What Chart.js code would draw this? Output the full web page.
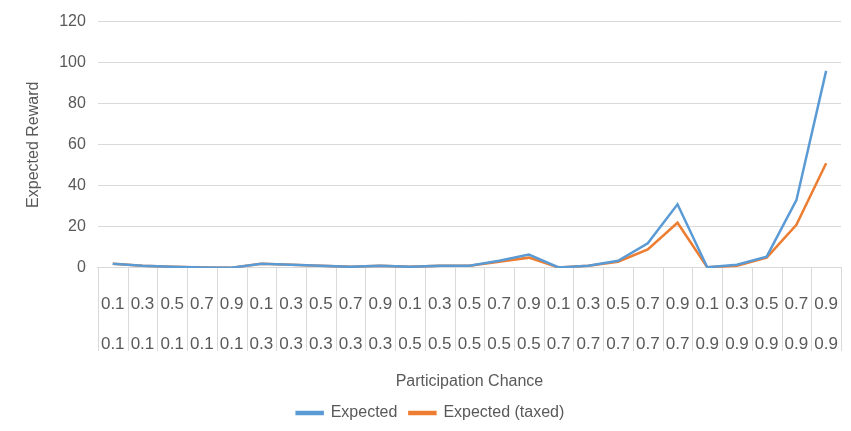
<!DOCTYPE html>
<html>
<head>
<script src="https://cdn.jsdelivr.net/npm/chart.js"></script>
<style>
  body { margin: 0; background: #fff; }
  #wrap { width: 851px; height: 431px; }
</style>
</head>
<body>
<div id="wrap"><canvas id="c"></canvas></div>
<script>
const innerLabels = ['0.1', '0.3', '0.5', '0.7', '0.9'];
const outerLabels = ['0.1', '0.3', '0.5', '0.7', '0.9'];
const expected = [2, 1, 0.5, 0.2, 0.1, 2, 1.5, 1, 0.5, 1, 0.5, 1, 1, 3.5, 6.5, 0.2, 1, 3.5, 12, 31, 0.3, 1.5, 5.5, 33, 96];
const expectedTaxed = [2, 1, 0.5, 0.2, 0.1, 2, 1.5, 1, 0.5, 1, 0.5, 1, 1, 3, 5, 0.2, 1, 3, 9, 22, 0.3, 1, 5, 21, 51];

const labels = [];
outerLabels.forEach(o => innerLabels.forEach(i => labels.push([i, o])));

// separators between categories, drawn only in the label area
const separators = {
  id: 'separators',
  afterDraw(chart) {
    const x = chart.scales.x, ctx = chart.ctx;
    const step = x.width / labels.length;
    ctx.save();
    ctx.strokeStyle = '#d9d9d9';
    ctx.lineWidth = 1;
    for (let k = 0; k <= labels.length; k++) {
      const px = Math.round(x.left + k * step) + 0.5;
      ctx.beginPath();
      ctx.moveTo(px, x.top);
      ctx.lineTo(px, x.top + 83);
      ctx.stroke();
    }
    ctx.restore();
  }
};

new Chart(document.getElementById('c'), {
  type: 'line',
  data: {
    labels: labels,
    datasets: [
      { label: 'Expected', data: expected, borderColor: '#5B9BD5', backgroundColor: '#5B9BD5', borderWidth: 2.5, pointRadius: 0, tension: 0 },
      { label: 'Expected (taxed)', data: expectedTaxed, borderColor: '#ED7D31', backgroundColor: '#ED7D31', borderWidth: 2.5, pointRadius: 0, tension: 0 }
    ]
  },
  options: {
    responsive: true,
    maintainAspectRatio: false,
    animation: false,
    layout: { padding: { top: 10, right: 10, left: 20, bottom: 0 } },
    plugins: {
      legend: {
        position: 'bottom',
        labels: { boxWidth: 26, boxHeight: 2, color: '#595959', font: { family: 'Liberation Sans', size: 16 }, padding: 12 }
      },
      tooltip: { enabled: false }
    },
    scales: {
      x: {
        offset: true,
        grid: { display: false },
        border: { color: '#d9d9d9' },
        ticks: { color: '#595959', autoSkip: false, maxRotation: 0, padding: 8, font: { family: 'Liberation Sans', size: 17, lineHeight: 2.35 } },
        title: { display: true, text: 'Participation Chance', color: '#595959', font: { family: 'Liberation Sans', size: 16 }, padding: { top: 0, bottom: 2 } }
      },
      y: {
        min: 0, max: 120,
        ticks: { stepSize: 20, color: '#595959', padding: 12, font: { family: 'Liberation Sans', size: 16 } },
        grid: { color: '#d9d9d9', drawTicks: false },
        border: { display: false },
        title: { display: true, text: 'Expected Reward', color: '#595959', font: { family: 'Liberation Sans', size: 16 } }
      }
    }
  },
  plugins: [separators]
});
</script>
</body>
</html>
